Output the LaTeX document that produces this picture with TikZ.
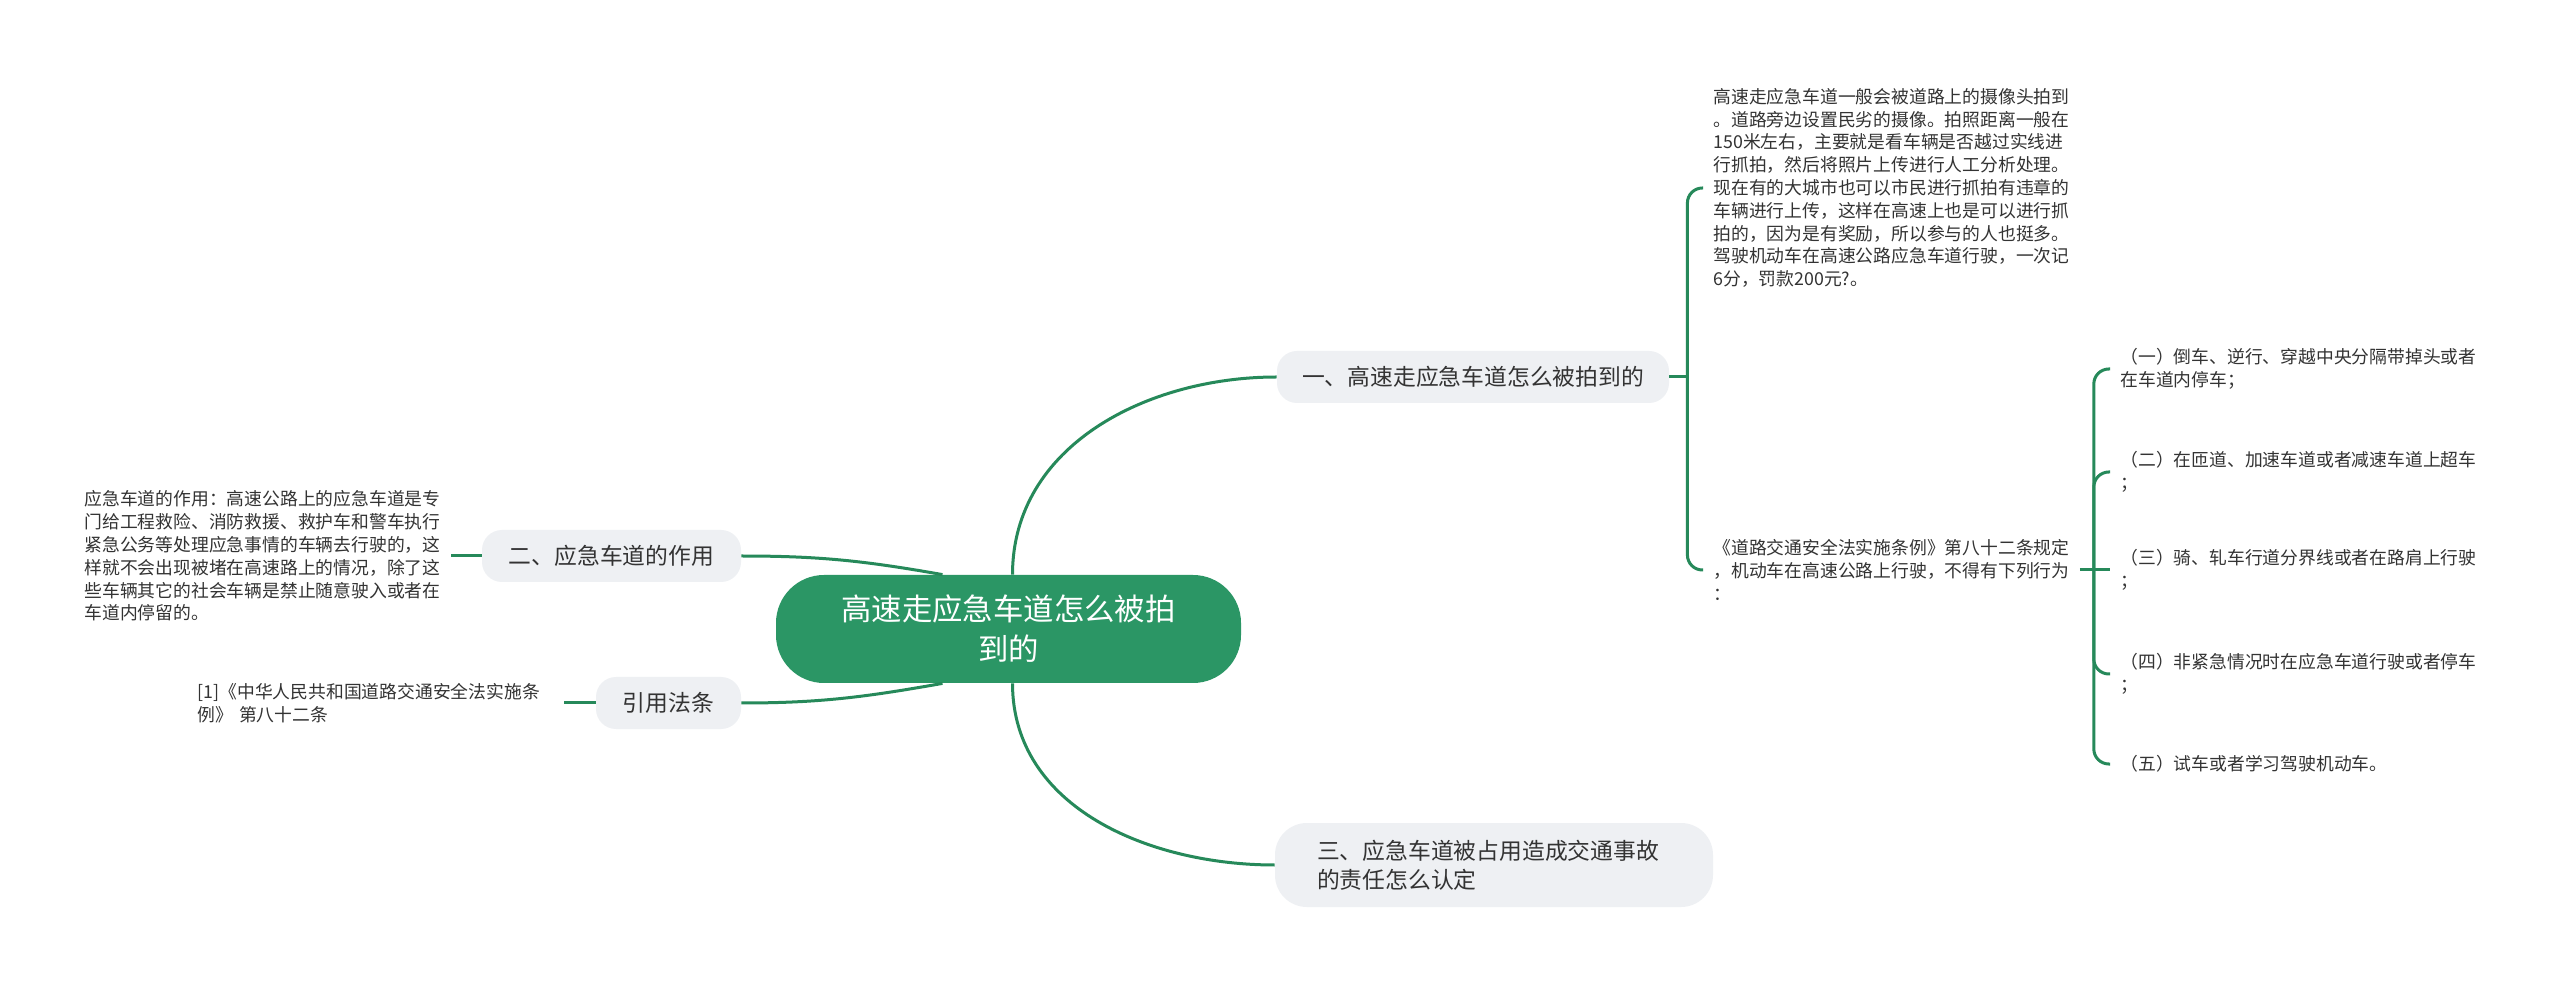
\documentclass[tikz,border=0pt]{standalone}
\usepackage{fontspec}
\newfontfamily\cjk{Noto Sans CJK SC}
\definecolor{linegreen}{RGB}{38,137,90}
\definecolor{rootgreen}{RGB}{43,150,101}
\definecolor{branchfill}{RGB}{238,240,243}
\definecolor{txt}{RGB}{51,51,51}
\begin{document}
\begin{tikzpicture}[x=0.5pt,y=0.5pt,
 conn/.style={draw=linegreen,line width=1.5pt},
 bracket/.style={conn,rounded corners=7.5pt},
 rootbox/.style={fill=rootgreen,text=white,rounded corners=24pt,minimum width=232.5pt,minimum height=54pt,align=center,inner sep=0pt,font=\cjk\fontsize{15.2pt}{20pt}\selectfont},
 branchbox/.style={fill=branchfill,text=txt,rounded corners=10pt,minimum height=26pt,inner sep=0pt,font=\cjk\fontsize{11.4pt}{14.5pt}\selectfont},
 detail/.style={text=txt,text width=178pt,align=left,inner xsep=5pt,inner ysep=2pt,font=\cjk\fontsize{8.9pt}{11.4pt}\selectfont}]

\fill[white] (0,0) rectangle (2560,-983);
\useasboundingbox (0,0) rectangle (2560,-983);

% main nodes
\node[rootbox] (root) at (1008.5,-629) {高速走应急车道怎么被拍\\到的};
\node[branchbox,minimum width=196pt] (b1) at (1473,-377) {一、高速走应急车道怎么被拍到的};
\node[branchbox,minimum width=129.5pt] (b2) at (611.5,-556) {二、应急车道的作用};
\node[branchbox,minimum width=72.5pt] (bref) at (668.5,-703) {引用法条};
\node[branchbox,minimum height=42pt,rounded corners=16pt,text width=177pt,inner xsep=21pt,align=left] (b3) at (1494,-865) {三、应急车道被占用造成交通事故\\的责任怎么认定};

% detail texts
\node[detail,anchor=west] (t1) at (1703,-188) {高速走应急车道一般会被道路上的摄像头拍到\\。道路旁边设置民劣的摄像。拍照距离一般在\\150米左右，主要就是看车辆是否越过实线进\\行抓拍，然后将照片上传进行人工分析处理。\\现在有的大城市也可以市民进行抓拍有违章的\\车辆进行上传，这样在高速上也是可以进行抓\\拍的，因为是有奖励，所以参与的人也挺多。\\驾驶机动车在高速公路应急车道行驶，一次记\\6分，罚款200元?。};
\node[detail,anchor=west] (t2) at (1703,-570) {《道路交通安全法实施条例》第八十二条规定\\，机动车在高速公路上行驶，不得有下列行为\\：};
\node[detail,anchor=west] (i1) at (2110,-369) {（一）倒车、逆行、穿越中央分隔带掉头或者\\在车道内停车；};
\node[detail,anchor=west] (i2) at (2110,-472) {（二）在匝道、加速车道或者减速车道上超车\\；};
\node[detail,anchor=west] (i3) at (2110,-570) {（三）骑、轧车行道分界线或者在路肩上行驶\\；};
\node[detail,anchor=west] (i4) at (2110,-674) {（四）非紧急情况时在应急车道行驶或者停车\\；};
\node[detail,anchor=west] (i5) at (2110,-764) {（五）试车或者学习驾驶机动车。};
\node[detail,anchor=east] (t3) at (451,-556) {应急车道的作用：高速公路上的应急车道是专\\门给工程救险、消防救援、救护车和警车执行\\紧急公务等处理应急事情的车辆去行驶的，这\\样就不会出现被堵在高速路上的情况，除了这\\些车辆其它的社会车辆是禁止随意驶入或者在\\车道内停留的。};
\node[detail,anchor=east] (t4) at (564,-703) {[1]《中华人民共和国道路交通安全法实施条\\例》 第八十二条};

% junctions
\coordinate (j1) at ([xshift=9pt]b1.east);
\coordinate (j2) at ([xshift=7pt]t2.east);

% connectors from root
\draw[conn] ([xshift=2pt]root.north) to[out=90,in=180] (b1.west);
\draw[conn] ([xshift=2pt]root.south) to[out=-90,in=180] (b3.west);
\draw[conn] (b2.east) to[out=0,in=170] ([xshift=-33pt]root.north);
\draw[conn] (bref.east) to[out=0,in=190] ([xshift=-33pt]root.south);

% brackets
\draw[conn] (b1.east) -- (j1);
\draw[bracket] (j1) |- (t1.west);
\draw[bracket] (j1) |- (t2.west);
\draw[conn] (t2.east) -- (j2);
\draw[bracket] (j2) |- (i1.west);
\draw[bracket] (j2) |- (i2.west);
\draw[conn] (j2) -- (i3.west);
\draw[bracket] (j2) |- (i4.west);
\draw[bracket] (j2) |- (i5.west);
\draw[conn] (t3.east) -- (b2.west);
\draw[conn] (t4.east) -- (bref.west);
\end{tikzpicture}
\end{document}
